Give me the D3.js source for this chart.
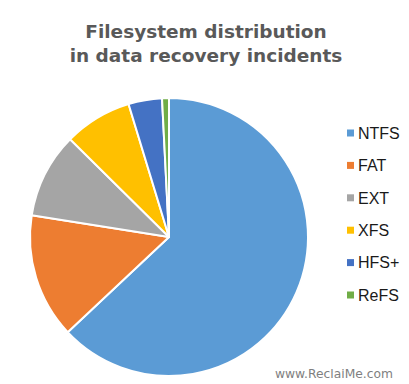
<!DOCTYPE html>
<html><head><meta charset="utf-8">
<script src="https://cdn.jsdelivr.net/npm/d3@7/dist/d3.min.js"></script>
<style>body{margin:0;background:#fff}svg{display:block}</style>
</head><body>
<script>
const categories = ["NTFS","FAT","EXT","XFS","HFS+","ReFS"];
const values = [63.0, 14.5, 9.9, 7.9, 3.9, 0.8];
const colors = ["#5B9BD5","#ED7D31","#A5A5A5","#FFC000","#4472C4","#70AD47"];
const titleLines = ["Filesystem distribution","in data recovery incidents"];

const W=409,H=384;
const svg=d3.select("body").append("svg").attr("width",W).attr("height",H);
svg.append("rect").attr("width",W).attr("height",H).attr("fill","#fff");

svg.append("g").selectAll("text").data(titleLines).join("text")
  .attr("x",206).attr("y",(d,i)=>38+i*24)
  .attr("text-anchor","middle")
  .attr("font-family","DejaVu Sans, Verdana, sans-serif")
  .attr("font-weight","bold").attr("font-size",18.5)
  .attr("fill","#595959").text(d=>d);

const pie=d3.pie().sort(null).value(d=>d)(values);
const arc=d3.arc().innerRadius(0).outerRadius(139);
svg.append("g").attr("transform","translate(169,237)")
  .selectAll("path").data(pie).join("path")
  .attr("d",arc).attr("fill",(d,i)=>colors[i])
  .attr("stroke","#fff").attr("stroke-width",2).attr("stroke-linejoin","round");

const y=d3.scalePoint().domain(categories).range([133,295]);
const lg=svg.append("g").selectAll("g").data(categories).join("g")
  .attr("transform",d=>`translate(347,${y(d)})`);
lg.append("rect").attr("x",0).attr("y",-3.5).attr("width",7).attr("height",7)
  .attr("fill",(d,i)=>colors[i]);
lg.append("text").attr("x",11).attr("y",5.8)
  .attr("font-family","Liberation Sans, Arial, sans-serif").attr("font-size",16)
  .attr("fill","#1a1a1a").text(d=>d);

svg.append("text").attr("x",393).attr("y",378).attr("text-anchor","end")
  .attr("font-family","DejaVu Sans, Verdana, sans-serif").attr("font-size",12.3)
  .attr("fill","#7f7f7f").text("www.ReclaiMe.com");
</script>
</body></html>
